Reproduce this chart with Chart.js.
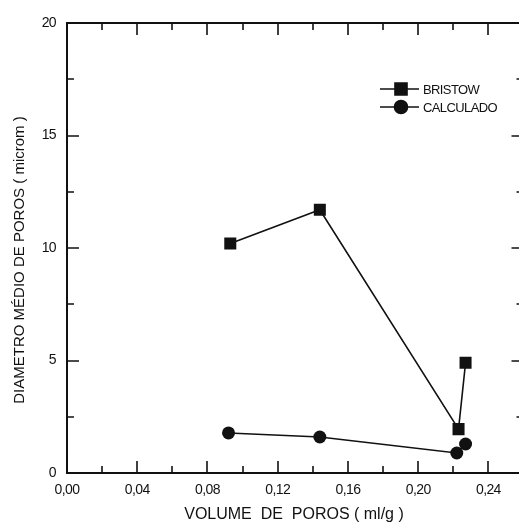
<!DOCTYPE html>
<html>
<head>
<meta charset="utf-8">
<script src="https://cdn.jsdelivr.net/npm/chart.js@4.4.0/dist/chart.umd.min.js"></script>
<style>
  html, body { margin: 0; padding: 0; background: #fff; overflow: hidden; }
  #wrap { width: 532px; height: 530px; }
</style>
</head>
<body>
<div id="wrap"><canvas id="poros" width="532" height="530"></canvas></div>
<script>
// volume de poros (ml/g) x diametro medio (microm)
const volBristow = [0.093, 0.144, 0.223, 0.227];
const diamBristow = [10.2, 11.7, 1.95, 4.9];
const volCalculado = [0.092, 0.144, 0.222, 0.227];
const diamCalculado = [1.78, 1.6, 0.89, 1.29];

const seriesNames = ["BRISTOW", "CALCULADO"];
const xTickValues = [0, 0.04, 0.08, 0.12, 0.16, 0.20, 0.24];
const xTickLabels = ["0,00", "0,04", "0,08", "0,12", "0,16", "0,20", "0,24"];
const yTickValues = [0, 5, 10, 15, 20];
const yTickLabels = ["0", "5", "10", "15", "20"];

const xTitle = "VOLUME  DE  POROS ( ml/g )";
const yTitle = "DIAMETRO MÉDIO DE POROS ( microm )";

const FONT = "'Liberation Sans', Arial, sans-serif";

const toPoints = function (xs, ys) {
  return xs.map(function (x, i) { return { x: x, y: ys[i] }; });
};

// keep the plot box fixed, no extra room for edge labels
const noEdgePadding = function (scale) {
  scale.paddingLeft = 0;
  scale.paddingRight = 0;
  scale.paddingTop = 0;
  scale.paddingBottom = 0;
};

// frame, inward ticks, axis titles and legend
const framePlugin = {
  id: "frame",
  beforeDraw: function (chart) {
    chart.ctx.letterSpacing = "-0.6px";
  },
  afterDraw: function (chart) {
    const ctx = chart.ctx;
    const a = chart.chartArea;
    const xs = chart.scales.x;
    const ys = chart.scales.y;
    ctx.save();
    ctx.strokeStyle = "#111";
    ctx.fillStyle = "#111";
    ctx.lineWidth = 2;
    ctx.strokeRect(a.left, a.top, a.right - a.left, a.bottom - a.top);

    ctx.lineWidth = 1.6;
    ctx.beginPath();
    for (let v = 0; v <= 0.26 + 1e-9; v += 0.02) {
      const px = Math.round(xs.getPixelForValue(v));
      const major = Math.abs(v / 0.04 - Math.round(v / 0.04)) < 1e-6;
      const len = major ? 12 : 7;
      ctx.moveTo(px, a.bottom); ctx.lineTo(px, a.bottom - len);
      ctx.moveTo(px, a.top); ctx.lineTo(px, a.top + len);
    }
    for (let v = 0; v <= 20 + 1e-9; v += 2.5) {
      const py = Math.round(ys.getPixelForValue(v));
      const major = v % 5 === 0;
      const len = major ? 12 : 7;
      ctx.moveTo(a.left, py); ctx.lineTo(a.left + len, py);
      ctx.moveTo(a.right, py); ctx.lineTo(a.right - len, py);
    }
    ctx.stroke();

    // axis titles
    ctx.letterSpacing = "0px";
    ctx.textAlign = "center";
    ctx.textBaseline = "middle";
    ctx.font = "16px " + FONT;
    ctx.fillText(xTitle, 294, 515);
    ctx.save();
    ctx.translate(20, 260);
    ctx.rotate(-Math.PI / 2);
    ctx.font = "15px " + FONT;
    ctx.fillText(yTitle, 0, 0);
    ctx.restore();

    // legend
    const styles = ["rect", "circle"];
    const radii = [8.5, 6.5];
    const rows = [89, 107];
    ctx.letterSpacing = "-0.6px";
    ctx.font = "13px " + FONT;
    ctx.textAlign = "left";
    for (let i = 0; i < seriesNames.length; i++) {
      ctx.lineWidth = 1.6;
      ctx.beginPath();
      ctx.moveTo(380, rows[i]); ctx.lineTo(419, rows[i]);
      ctx.stroke();
      Chart.helpers.drawPoint(ctx, { pointStyle: styles[i], radius: radii[i], borderWidth: 1 }, 401, rows[i]);
      ctx.fill();
      ctx.fillText(seriesNames[i], 423, rows[i] + 1);
    }
    ctx.restore();
  }
};

const ctx = document.getElementById("poros").getContext("2d");
const porosChart = new Chart(ctx, {
  type: "scatter",
  data: {
    datasets: [{
      label: seriesNames[0],
      data: toPoints(volBristow, diamBristow),
      showLine: true,
      borderColor: "#111",
      backgroundColor: "#111",
      borderWidth: 1.6,
      pointStyle: "rect",
      pointRadius: 8.5,
      pointBorderWidth: 0
    }, {
      label: seriesNames[1],
      data: toPoints(volCalculado, diamCalculado),
      showLine: true,
      borderColor: "#111",
      backgroundColor: "#111",
      borderWidth: 1.6,
      pointStyle: "circle",
      pointRadius: 6.5,
      pointBorderWidth: 0
    }]
  },
  options: {
    responsive: false,
    animation: false,
    devicePixelRatio: 1,
    layout: { padding: { top: 23, right: 0, left: 0, bottom: 0 } },
    plugins: {
      legend: { display: false },
      tooltip: { enabled: false }
    },
    scales: {
      x: {
        type: "linear",
        min: 0,
        max: 0.26,
        grid: { display: false, drawTicks: false, tickLength: 0 },
        border: { display: false },
        afterBuildTicks: function (scale) {
          scale.ticks = xTickValues.map(function (v) { return { value: v }; });
        },
        afterFit: function (scale) {
          scale.height = 57;
          noEdgePadding(scale);
        },
        ticks: {
          padding: 9,
          maxRotation: 0,
          color: "#111",
          font: { family: FONT, size: 14 },
          callback: function (value, index) { return xTickLabels[index]; }
        }
      },
      y: {
        type: "linear",
        min: 0,
        max: 20,
        grid: { display: false, drawTicks: false, tickLength: 0 },
        border: { display: false },
        afterBuildTicks: function (scale) {
          scale.ticks = yTickValues.map(function (v) { return { value: v }; });
        },
        afterFit: function (scale) {
          scale.width = 67;
          noEdgePadding(scale);
        },
        ticks: {
          padding: 11,
          color: "#111",
          font: { family: FONT, size: 14 },
          callback: function (value, index) { return yTickLabels[index]; }
        }
      }
    }
  },
  plugins: [framePlugin]
});
</script>
</body>
</html>
